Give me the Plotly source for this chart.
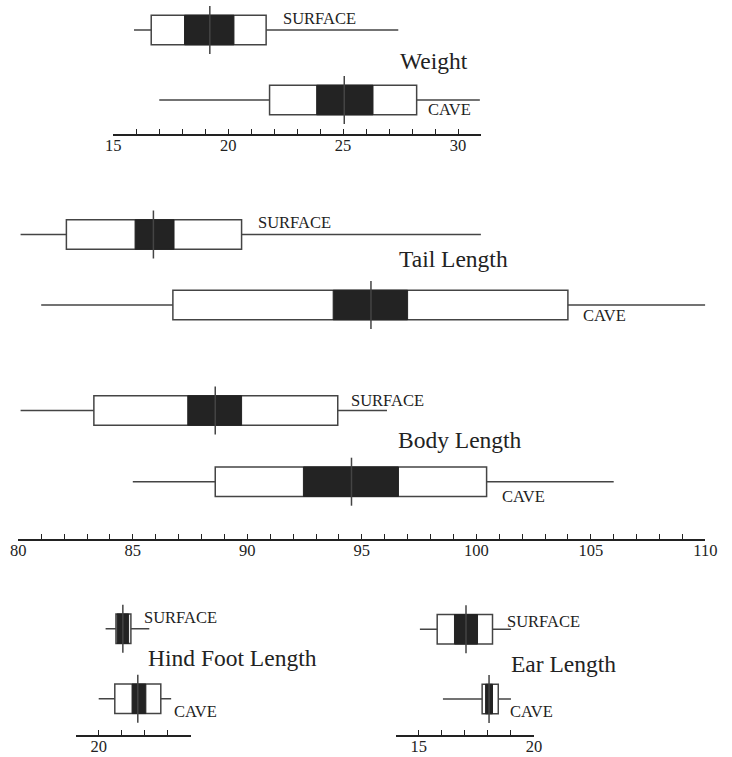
import plotly.graph_objects as go

# ---------------- data ----------------
measures = ["Weight", "Tail Length", "Body Length", "Hind Foot Length", "Ear Length"]
populations = ["SURFACE", "CAVE"]

surface_min = [15.9, 80.1, 80.1, 20.3, 15.05]
surface_max = [27.4, 100.2, 96.1, 22.2, 19.0]
surface_sd_lo = [16.65, 82.1, 83.3, 20.75, 15.8]
surface_sd_hi = [21.65, 89.75, 93.95, 21.4, 18.2]
surface_ci_lo = [18.1, 85.1, 87.4, 20.8, 16.55]
surface_ci_hi = [20.25, 86.8, 89.75, 21.3, 17.55]
surface_mean = [19.2, 85.9, 88.6, 21.05, 17.05]

cave_min = [17.0, 81.0, 85.0, 20.0, 16.05]
cave_max = [30.95, 110.0, 106.0, 23.15, 19.0]
cave_sd_lo = [21.8, 86.75, 88.6, 20.7, 17.75]
cave_sd_hi = [28.2, 104.0, 100.45, 22.7, 18.45]
cave_ci_lo = [23.85, 93.75, 92.45, 21.45, 17.9]
cave_ci_hi = [26.3, 97.0, 96.6, 22.05, 18.2]
cave_mean = [25.05, 95.4, 94.55, 21.7, 18.05]

axis_min = [15, 80, 80, 19, 14]
axis_max = [31, 110, 110, 24, 20]
axis_label_step = [5, 5, 5, 5, 5]

# ---------------- layout (pixels) ----------------
W, H = 732, 757
FONT = "Liberation Serif, Times New Roman, serif"
INK = "#222222"
LINE = "#444444"


def fx(px):
    return px / W


def fy(py):
    return 1 - py / H


# x-domain px, y top/bottom px, surface row px, cave row px, axis shown
panel_px = [
    dict(x0=113.3, x1=481.0, top=0, bottom=134.3, ys=30.0, yc=100.0, show=True),
    dict(x0=18.3, x1=705.3, top=195, bottom=345, ys=234.5, yc=305.0, show=False),
    dict(x0=18.3, x1=705.3, top=375, bottom=539.3, ys=410.5, yc=481.7, show=True),
    dict(x0=75.7, x1=190.7, top=595, bottom=735, ys=628.7, yc=698.8, show=True),
    dict(x0=395.7, x1=534.0, top=595, bottom=735, ys=629.3, yc=699.0, show=True),
]

# label positions: (left px, centre px)
label_px = [
    dict(s=(281.7, 18.5), t=(399, 61), c=(427, 109)),
    dict(s=(257.3, 223), t=(398, 259), c=(582.3, 315)),
    dict(s=(350, 400.5), t=(397.3, 440), c=(501, 496)),
    dict(s=(142.7, 617), t=(147.3, 658), c=(172.7, 711)),
    dict(s=(505.7, 621), t=(510, 664), c=(509, 711)),
]

BOX_PX = 29.5
MEAN_PX = 48

fig = go.Figure()
layout = dict(
    width=W, height=H, autosize=False,
    margin=dict(l=0, r=0, t=0, b=0, pad=0, autoexpand=False),
    paper_bgcolor="white", plot_bgcolor="rgba(0,0,0,0)",
    showlegend=False, barmode="overlay",
    font=dict(family=FONT, color=INK),
    annotations=[],
)

groups = [
    (surface_min, surface_max, surface_sd_lo, surface_sd_hi, surface_ci_lo, surface_ci_hi, surface_mean),
    (cave_min, cave_max, cave_sd_lo, cave_sd_hi, cave_ci_lo, cave_ci_hi, cave_mean),
]

for i, name in enumerate(measures):
    p = panel_px[i]
    xa = "x" if i == 0 else f"x{i+1}"
    ya = "y" if i == 0 else f"y{i+1}"
    span = p["yc"] - p["ys"]
    bar_w = BOX_PX / span
    lo_val = (p["bottom"] - p["ys"]) / span
    hi_val = (p["top"] - p["ys"]) / span

    layout["xaxis" if i == 0 else f"xaxis{i+1}"] = dict(
        domain=[fx(p["x0"]), fx(p["x1"])], range=[axis_min[i], axis_max[i]],
        anchor=ya, visible=p["show"], showgrid=False, zeroline=False,
        automargin=False,
        showline=True, linecolor=INK, linewidth=2,
        ticks="inside", ticklen=5, tickwidth=1.2, tickcolor=INK,
        tick0=0, dtick=axis_label_step[i],
        tickfont=dict(family=FONT, size=16.5, color=INK),
        ticklabelstandoff=-5,
        minor=dict(dtick=1, tick0=0, ticks="inside", ticklen=5, tickwidth=1.2, tickcolor=INK),
        fixedrange=True,
    )
    layout["yaxis" if i == 0 else f"yaxis{i+1}"] = dict(
        domain=[fy(p["bottom"]), fy(p["top"])], range=[lo_val, hi_val],
        anchor=xa, visible=False, showgrid=False, zeroline=False, fixedrange=True,
        automargin=False,
    )

    for row, g in enumerate(groups):
        mn, mx, slo, shi, clo, chi, mean = (arr[i] for arr in g)
        # range line (left and right of the box)
        fig.add_trace(go.Scatter(
            x=[mn, slo, None, shi, mx], y=[row, row, None, row, row],
            mode="lines", line=dict(color=LINE, width=1.6),
            xaxis=xa, yaxis=ya, hoverinfo="skip", cliponaxis=False,
        ))
        # open box (standard deviation)
        fig.add_trace(go.Bar(
            y=[row], x=[shi - slo], base=[slo], orientation="h", width=bar_w,
            marker=dict(color="white", line=dict(color=LINE, width=1.5)),
            xaxis=xa, yaxis=ya, hoverinfo="skip",
        ))
        # solid box (confidence interval)
        fig.add_trace(go.Bar(
            y=[row], x=[chi - clo], base=[clo], orientation="h", width=bar_w,
            marker=dict(color="#232323", line=dict(color="#232323", width=1)),
            xaxis=xa, yaxis=ya, hoverinfo="skip",
        ))
        # mean
        fig.add_trace(go.Scatter(
            x=[mean], y=[row], mode="markers",
            marker=dict(symbol="line-ns", size=MEAN_PX / 1.4,
                        line=dict(color=LINE, width=1.5)),
            xaxis=xa, yaxis=ya, hoverinfo="skip", cliponaxis=False,
        ))

    lp = label_px[i]
    for key, text, size in (("s", populations[0], 16.5), ("t", name, 23.5), ("c", populations[1], 16.5)):
        px_, py_ = lp[key]
        layout["annotations"].append(dict(
            x=fx(px_), y=fy(py_), xref="paper", yref="paper",
            xanchor="left", yanchor="middle", showarrow=False, text=text,
            font=dict(family=FONT, size=size, color=INK), borderpad=0,
        ))

fig.update_layout(**layout)
fig.write_html(
    "out.html",
    config=dict(displayModeBar=False),
    post_script="document.body.style.margin='0';document.body.style.overflow='hidden';",
)
